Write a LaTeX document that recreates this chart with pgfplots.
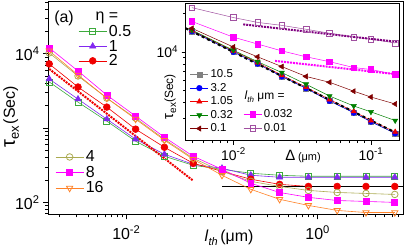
\documentclass[border=0pt]{standalone}
\usepackage{fontspec}
\setmainfont{Liberation Sans}
\usepackage{pgfplots}
\pgfplotsset{compat=1.18}
\definecolor{cgreen}{RGB}{60,170,60}
\definecolor{cviolet}{RGB}{130,40,240}
\definecolor{cred}{RGB}{240,0,0}
\definecolor{colive}{RGB}{170,170,80}
\definecolor{cmag}{RGB}{255,0,255}
\definecolor{corange}{RGB}{255,130,40}
\definecolor{cgray}{RGB}{128,128,128}
\definecolor{cblue}{RGB}{0,0,255}
\definecolor{cdgreen}{RGB}{0,128,0}
\definecolor{cdred}{RGB}{128,0,0}
\definecolor{cpurple}{RGB}{160,80,160}
\definecolor{cdpurple}{RGB}{128,0,128}
\newcommand{\fs}[1]{\fontsize{#1}{#1}\selectfont}
\begin{document}
\begin{tikzpicture}
% ---------------- main axis, part 1
\begin{axis}[name=main, at={(0,0)}, anchor=south west, scale only axis, width=356pt, height=213pt,
  xmode=log, ymode=log, xmin=0.00152, xmax=7.8, ymin=69, ymax=50000,
  xtick={0.001,0.01,0.1,1,10}, xticklabels={}, extra x ticks={0.01,1},
  extra x tick labels={10\textsuperscript{-2},10\textsuperscript{0}},
  ytick={10,100,1000,10000,100000}, yticklabels={}, extra y ticks={100,10000},
  extra y tick labels={10\textsuperscript{2},10\textsuperscript{4}},
  tick align=outside, xtick pos=bottom, ytick pos=left,
  major tick length=5pt, minor tick length=3pt, tick style={black, line width=0.8pt},
  axis line style={line width=1pt},
  ticklabel style={font=\fs{16}},
  xticklabel style={yshift=-3pt},
  xlabel={\fs{16}\textit{l}\raisebox{-4pt}{\fs{11}\textit{th}}\,(μm)},
  xlabel style={at={(axis description cs:0.51,0)}, anchor=north, yshift=-12pt},
  ylabel={{\fs{20}τ}\raisebox{-4pt}{\fs{13}ex}\,\fs{16}(Sec)},
  ylabel style={at={(axis description cs:-0.104,0.46)}, anchor=center},
  legend style={at={(0.085,0.90)}, anchor=north west, draw=none, fill=none, inner sep=0pt,
    row sep=-2pt, font=\fs{16}},
  legend cell align=left,
  legend image code/.code={\draw[mark repeat=2,mark phase=2] plot coordinates {(0pt,0pt)(14pt,0pt)(28pt,0pt)};},
]
\addplot[cgreen, line width=0.6pt, mark=square, mark size=3pt, mark options={fill=white, line width=0.8pt}] coordinates {
(0.0015625,4190)(0.003125,2240)(0.00625,1244)(0.0125,667)(0.025,418)(0.05,316)(0.1,279)(0.2,247)(0.4,232)(0.8,225)(1.6,225)(3.2,225)(6.4,225)};
\addlegendentry{0.5}
\addplot[cviolet, line width=0.6pt, mark=triangle*, mark size=3.6pt] coordinates {
(0.0015625,4590)(0.003125,2460)(0.00625,1323)(0.0125,710)(0.025,445)(0.05,326)(0.1,288)(0.2,232)(0.4,218)(0.8,218)(1.6,218)(3.2,218)(6.4,218)};
\addlegendentry{1}
\addplot[cred, line width=0.6pt, mark=*, mark size=3.4pt] coordinates {
(0.0015625,7330)(0.003125,3580)(0.00625,1920)(0.0125,969)(0.025,553)(0.05,336)(0.1,262)(0.2,205)(0.4,175)(0.8,164)(1.6,164)(3.2,164)(6.4,164)};
\addlegendentry{2}
\addplot[cred, line width=2pt, densely dotted, forget plot] coordinates {(0.0015625,6270)(0.05,196)};
\addplot[black, line width=0.8pt, forget plot] coordinates {(0.1,164)(7.8,164)};
\node[font=\fs{16}] at (axis description cs:0.045,0.925) {(a)};
\node[font=\fs{16}] at (axis description cs:0.166,0.925) {η =};
\end{axis}
% ---------------- main axis, part 2
\begin{axis}[at={(0,0)}, anchor=south west, scale only axis, width=356pt, height=213pt,
  xmode=log, ymode=log, xmin=0.00152, xmax=7.8, ymin=69, ymax=50000,
  hide axis,
  legend style={at={(0.02,0.31)}, anchor=north west, draw=none, fill=none, inner sep=0pt,
    row sep=-1pt, font=\fs{16}},
  legend cell align=left,
  legend image code/.code={\draw[mark repeat=2,mark phase=2] plot coordinates {(0pt,0pt)(14pt,0pt)(28pt,0pt)};},
]
\addplot[colive, line width=0.6pt, mark=o, mark size=3.3pt, mark options={fill=white, line width=0.8pt}] coordinates {
(0.0015625,10310)(0.003125,5040)(0.00625,2540)(0.0125,1364)(0.025,710)(0.05,393)(0.1,262)(0.2,192)(0.4,164)(0.8,145)(1.6,136)(3.2,132)(6.4,128)};
\addlegendentry{4}
\addplot[cmag, line width=0.6pt, mark=square*, mark size=3pt] coordinates {
(0.0015625,12050)(0.003125,5890)(0.00625,2790)(0.0125,1452)(0.025,755)(0.05,418)(0.1,279)(0.2,181)(0.4,136)(0.8,117)(1.6,106)(3.2,103)(6.4,100)};
\addlegendentry{8}
\addplot[corange, line width=0.6pt, mark=triangle, mark size=3.6pt, mark options={rotate=180, fill=white, line width=0.8pt}] coordinates {
(0.0015625,10980)(0.003125,5200)(0.00625,2540)(0.0125,1323)(0.025,688)(0.05,381)(0.1,232)(0.2,150)(0.4,110)(0.8,91)(1.6,78)(3.2,73)(6.4,73)};
\addlegendentry{16}
\end{axis}
% ---------------- inset, part 1
\begin{axis}[name=ins, at={(138pt,74pt)}, anchor=south west, scale only axis, width=214pt, height=138pt,
  xmode=log, ymode=log, xmin=0.0045, xmax=0.16, ymin=2020, ymax=24150,
  axis background/.style={fill=white},
  xtick={0.001,0.01,0.1,1}, xticklabels={}, extra x ticks={0.01,0.1},
  extra x tick labels={10\textsuperscript{-2},10\textsuperscript{-1}},
  ytick={1000,10000,100000}, yticklabels={}, extra y ticks={10000},
  extra y tick labels={10\textsuperscript{4}},
  tick align=outside, xtick pos=bottom, ytick pos=left,
  major tick length=4pt, minor tick length=2.5pt, tick style={black, line width=0.6pt},
  axis line style={line width=0.8pt},
  ticklabel style={font=\fs{14}},
  xlabel={{\fs{15}Δ} {\fs{11}(μm)}},
  xlabel style={at={(axis description cs:0.55,0)}, anchor=north, yshift=-6pt},
  ylabel={{\fs{15}τ}\raisebox{-3pt}{\fs{10}ex}{\fs{12}(Sec)}},
  ylabel style={at={(axis description cs:-0.072,0.32)}, anchor=center},
  legend style={at={(0.02,0.53)}, anchor=north west, draw=none, fill=none, inner sep=0pt,
    row sep=0pt, font=\fs{11.5}},
  legend cell align=left,
  legend image code/.code={\draw[mark repeat=2,mark phase=2] plot coordinates {(0pt,0pt)(9pt,0pt)(18pt,0pt)};},
]
\addplot[cgray, line width=0.5pt, mark=square*, mark size=2.6pt] coordinates {
(0.005,14500)(0.01,10000)(0.015,8090)(0.0225,6420)(0.03375,5190)(0.05,4130)(0.075,3340)(0.1,2840)(0.15,2300)};
\addlegendentry{10.5}
\addplot[cblue, line width=0.5pt, mark=*, mark size=2.8pt] coordinates {
(0.005,14500)(0.01,10000)(0.015,8090)(0.0225,6420)(0.03375,5190)(0.05,4130)(0.075,3340)(0.1,2840)(0.15,2300)};
\addlegendentry{3.2}
\addplot[cred, line width=0.5pt, mark=triangle*, mark size=3pt] coordinates {
(0.005,14700)(0.01,10200)(0.015,8250)(0.0225,6550)(0.03375,5300)(0.05,4230)(0.075,3420)(0.1,2900)(0.15,2360)};
\addlegendentry{1.05}
\addplot[cdgreen, line width=0.5pt, mark=triangle*, mark size=3pt, mark options={rotate=180}] coordinates {
(0.005,14800)(0.01,10300)(0.015,8380)(0.0225,6890)(0.03375,5580)(0.05,4510)(0.075,3770)(0.1,3390)(0.15,2900)};
\addlegendentry{0.32}
\addplot[cdred, line width=0.5pt, mark=triangle*, mark size=3pt, mark options={rotate=90}] coordinates {
(0.005,15300)(0.01,10920)(0.015,9150)(0.0225,7670)(0.03375,6420)(0.05,5780)(0.075,4920)(0.1,4430)(0.15,3910)};
\addlegendentry{0.1}
\addplot[black, line width=2pt, dashed, forget plot] coordinates {(0.0045,15300)(0.15,2340)};
\end{axis}
% ---------------- inset, part 2
\begin{axis}[at={(138pt,74pt)}, anchor=south west, scale only axis, width=214pt, height=138pt,
  xmode=log, ymode=log, xmin=0.0045, xmax=0.16, ymin=2020, ymax=24150,
  hide axis,
  legend style={at={(0.27,0.24)}, anchor=north west, draw=none, fill=none, inner sep=0pt,
    row sep=0pt, font=\fs{11.5}},
  legend cell align=left,
  legend image code/.code={\draw[mark repeat=2,mark phase=2] plot coordinates {(0pt,0pt)(9pt,0pt)(18pt,0pt)};},
]
\addplot[cmag, line width=0.5pt, mark=square*, mark size=2.8pt] coordinates {
(0.005,17300)(0.01,13040)(0.015,11520)(0.0225,10180)(0.03375,9150)(0.05,8380)(0.075,7540)(0.1,7280)(0.15,6650)};
\addlegendentry{0.032}
\addplot[cpurple, line width=0.5pt, mark=square, mark size=2.8pt, mark options={fill=white}] coordinates {
(0.005,22200)(0.01,18580)(0.015,17010)(0.0225,16130)(0.03375,15030)(0.05,14000)(0.075,13040)(0.1,12590)(0.15,11730)};
\addlegendentry{0.01}
\addplot[cmag, line width=2pt, densely dotted, forget plot] coordinates {(0.0201,8500)(0.16,6650)};
\addplot[cdpurple, line width=2pt, densely dotted, forget plot] coordinates {(0.0118,16420)(0.16,11940)};
\node[font=\fs{12}] at (axis description cs:0.37,0.32) {\textit{l}\raisebox{-3pt}{\fs{8}\textit{th}} μm =};
\end{axis}
\path (main.south west) ++(-47pt,-35pt) rectangle ++(409pt,250pt);
\end{tikzpicture}
\end{document}
